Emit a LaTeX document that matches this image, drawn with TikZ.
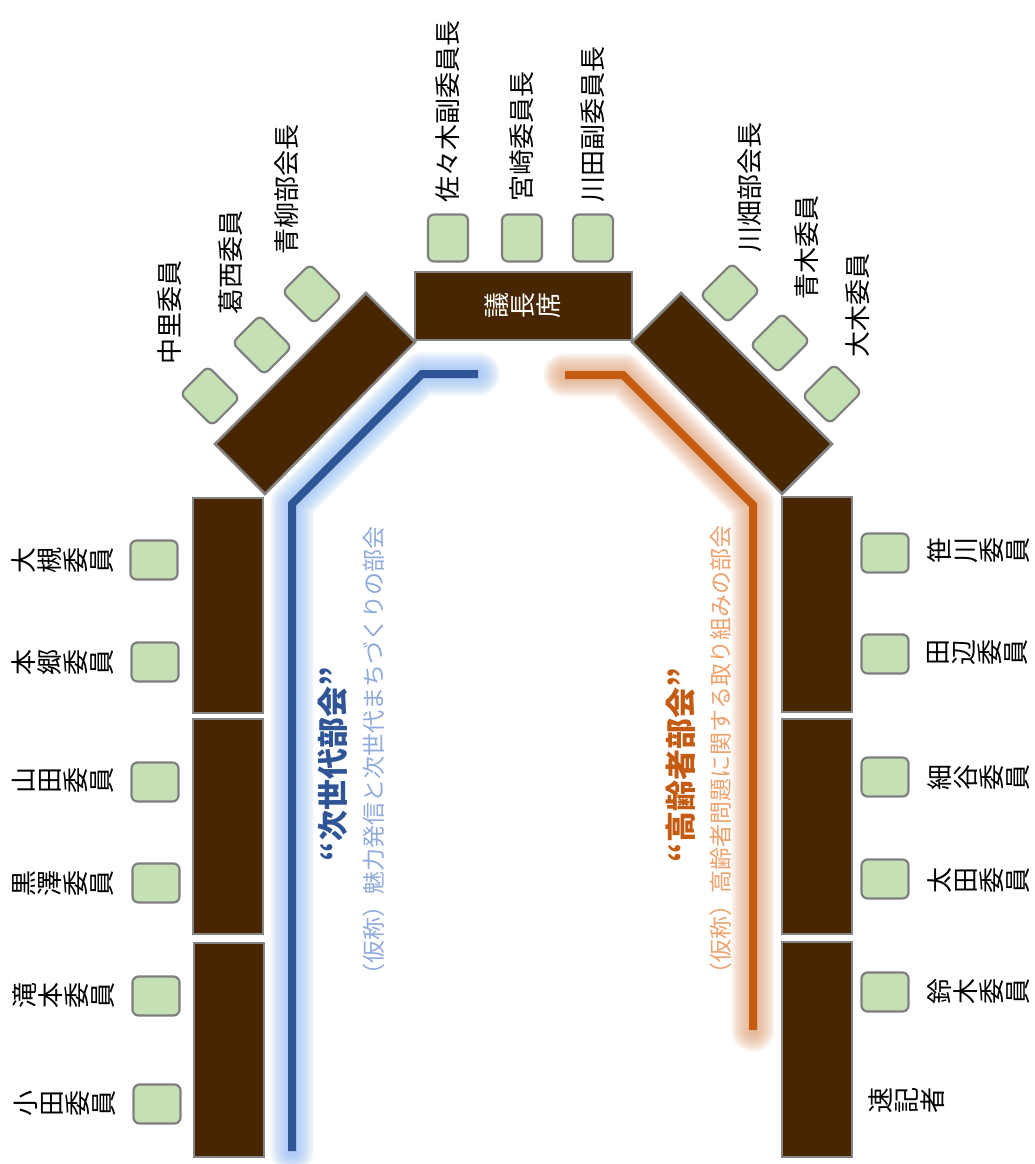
\documentclass[tikz,border=0pt]{standalone}
\usepackage{fontspec}
\setmainfont{Noto Sans CJK JP}[Kerning=Off]
\definecolor{tablebrown}{HTML}{472600}
\definecolor{tablegray}{HTML}{858585}
\definecolor{chairgreen}{HTML}{C5E0B4}
\definecolor{chairgray}{HTML}{7F7F7F}
\definecolor{lineblue}{HTML}{2F5597}
\definecolor{glowblue}{HTML}{9BC0F7}
\definecolor{lineorange}{HTML}{C55A11}
\definecolor{gloworange}{HTML}{E5A880}
\definecolor{subblue}{HTML}{8FAADC}
\definecolor{suborange}{HTML}{F0A26E}
\newcommand\lpar{\makebox[1em][r]{（}}
\newcommand\rpar{\makebox[1em][l]{）}}
\begin{document}
\begin{tikzpicture}[x=1pt,y=-1pt,
  tbl/.style={fill=tablebrown, draw=tablegray, line width=2.5pt, line join=miter},
  chair/.style={draw=chairgray, fill=chairgreen, line width=2.2pt, rounded corners=6pt, inner sep=0pt},
  topchair/.style={chair, minimum width=40pt, minimum height=47pt},
  sidechair/.style={chair, minimum width=47pt, minimum height=39pt},
  diagchair/.style={chair, minimum width=39pt, minimum height=45pt},
  lbl/.style={font=\fontsize{26}{26}\selectfont, inner sep=0pt, text=black},
  hlbl/.style={lbl, rotate=90, anchor=west},
  llbl/.style={lbl, rotate=90, anchor=south, align=center},
  rlbl/.style={lbl, rotate=90, anchor=north, align=center},
  glowline/.style={line cap=round, line join=round},
  mainline/.style={line width=8pt, line join=miter},
  subtitle/.style={rotate=90, inner sep=0pt, font=\fontsize{23}{23}\selectfont},
  title/.style={rotate=90, inner sep=0pt, font=\bfseries\fontsize{31}{31}\selectfont}
]
\useasboundingbox[fill=white] (0,0) rectangle (1034,1164);

% ---- glowing lines ----
\coordinate (b1) at (478,374);
\coordinate (b2) at (422,374);
\coordinate (b3) at (292,504);
\coordinate (b4) at (292,1151);
\coordinate (o1) at (565,375);
\coordinate (o2) at (623,375);
\coordinate (o3) at (753,505);
\coordinate (o4) at (753,1030);
\foreach \w in {10,12,...,44} {
  \draw[glowline, line width=\w pt, draw=glowblue, opacity=0.065] (b1)--(b2)--(b3)--(b4);
  \draw[glowline, line width=\w pt, draw=gloworange, opacity=0.065] (o1)--(o2)--(o3)--(o4);
}
\draw[mainline, draw=lineblue] (b1)--(b2)--(b3)--(b4);
\draw[mainline, draw=lineorange] (o1)--(o2)--(o3)--(o4);

% ---- tables ----
\draw[tbl] (415,272) rectangle (632,340);
\draw[tbl] (366,293) -- (415,342) -- (265,494) -- (215,444) -- cycle;
\draw[tbl] (681,293) -- (632,342) -- (782,494) -- (832,444) -- cycle;
\draw[tbl] (193,498) rectangle (263,713);
\draw[tbl] (193,719) rectangle (263,934);
\draw[tbl] (194,943) rectangle (264,1157);
\draw[tbl] (782,497) rectangle (852,712);
\draw[tbl] (782,719) rectangle (852,934);
\draw[tbl] (782,942) rectangle (852,1157);
\node[lbl, text=white, rotate=90, align=center] (chairman) at (523,305) {議\\長\\席};

% ---- chairs: top ----
\node[topchair] (cTop1) at (448,238) {};
\node[topchair] (cTop2) at (522,238) {};
\node[topchair] (cTop3) at (593,238) {};
% ---- chairs: diagonal ----
\node[diagchair, rotate=45] (cDL1) at (210,396) {};
\node[diagchair, rotate=45] (cDL2) at (262,345) {};
\node[diagchair, rotate=45] (cDL3) at (312,294) {};
\node[diagchair, rotate=-45] (cDR1) at (730,293) {};
\node[diagchair, rotate=-45] (cDR2) at (780,343) {};
\node[diagchair, rotate=-45] (cDR3) at (832,394) {};
% ---- chairs: left side ----
\node[sidechair] (cL1) at (154,560) {};
\node[sidechair] (cL2) at (155,662) {};
\node[sidechair] (cL3) at (155,782) {};
\node[sidechair] (cL4) at (156,883) {};
\node[sidechair] (cL5) at (156,996) {};
\node[sidechair] (cL6) at (157,1104) {};
% ---- chairs: right side ----
\node[sidechair] (cR1) at (885,553) {};
\node[sidechair] (cR2) at (885,654) {};
\node[sidechair] (cR3) at (885,777) {};
\node[sidechair] (cR4) at (885,879) {};
\node[sidechair] (cR5) at (885,992) {};

% ---- labels: top ----
\node[hlbl] (tSasaki) at (448,203) {佐々木副委員長};
\node[hlbl] (tMiyazaki) at (522,202) {宮崎委員長};
\node[hlbl] (tKawata) at (593,203) {川田副委員長};
% ---- labels: diagonal ----
\node[hlbl] (tNakazato) at (170,365) {中里委員};
\node[hlbl] (tKasai) at (231,315) {葛西委員};
\node[hlbl] (tAoyagi) at (287,255) {青柳部会長};
\node[hlbl] (tKawabata) at (750,253) {川畑部会長};
\node[hlbl] (tAoki) at (807,300) {青木委員};
\node[hlbl] (tOoki) at (858,358) {大木委員};
% ---- labels: left side ----
\node[llbl] (tOtsuki) at (114,560) {大\\槻\\委\\員};
\node[llbl] (tHongo) at (114,662) {本\\郷\\委\\員};
\node[llbl] (tYamada) at (114,780) {山\\田\\委\\員};
\node[llbl] (tKurosawa) at (114,883) {黒\\澤\\委\\員};
\node[llbl] (tTakimoto) at (115,995) {滝\\本\\委\\員};
\node[llbl] (tOda) at (116,1103) {小\\田\\委\\員};
% ---- labels: right side ----
\node[rlbl] (tSasagawa) at (927,550) {笹\\川\\委\\員};
\node[rlbl] (tTanabe) at (927,652) {田\\辺\\委\\員};
\node[rlbl] (tHosoya) at (927,777) {細\\谷\\委\\員};
\node[rlbl] (tOota) at (927,880) {太\\田\\委\\員};
\node[rlbl] (tSuzuki) at (927,991) {鈴\\木\\委\\員};
\node[rlbl] (tSokki) at (868,1100) {速\\記\\者};

% ---- committee titles ----
\node[title, text=lineblue] (nextT) at (333,764) {“次世代部会”};
\node[subtitle, text=subblue] (nextS) at (374,756) {\lpar 仮称\rpar 魅力発信と次世代まちづくりの部会};
\node[title, text=lineorange] (elderT) at (681,765) {“高齢者部会”};
\node[subtitle, text=suborange] (elderS) at (721,755) {\lpar 仮称\rpar 高齢者問題に関する取り組みの部会};
\end{tikzpicture}
\end{document}
